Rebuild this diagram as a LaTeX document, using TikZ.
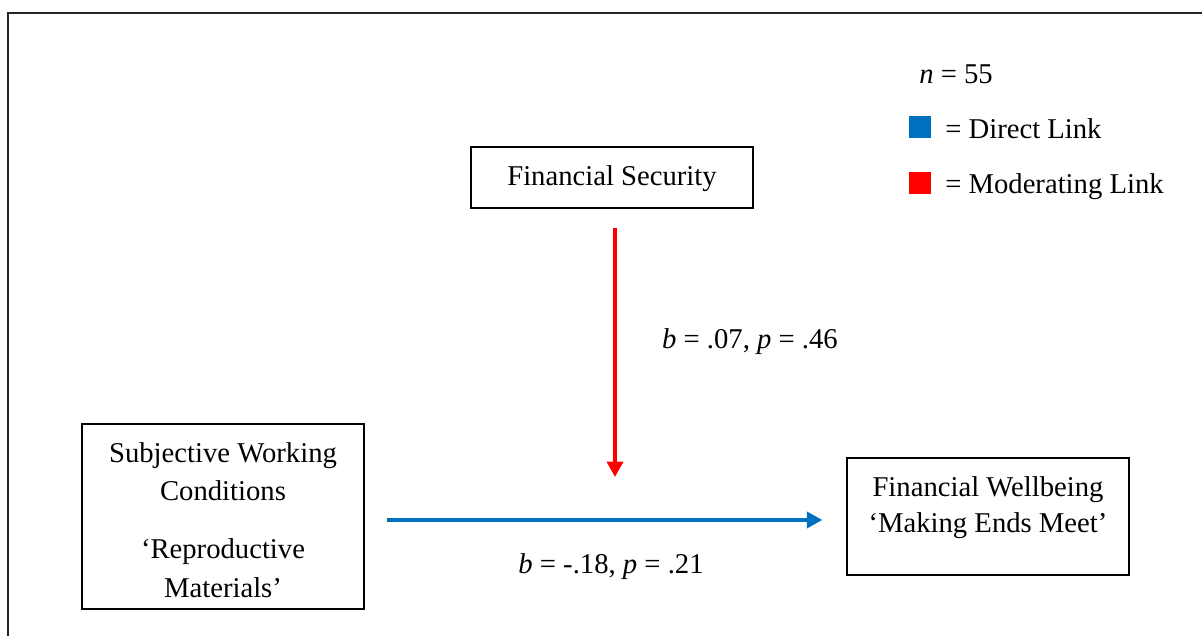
\documentclass[tikz,border=0pt]{standalone}
\usepackage{fontspec}
\setmainfont{Liberation Serif}
\usetikzlibrary{arrows.meta}
\definecolor{linkblue}{HTML}{0070C0}
\definecolor{linkred}{HTML}{FF0000}
\tikzset{
  varbox/.style={draw=black, line width=1.1pt, inner sep=0pt},
  lbl/.style={inner sep=0pt, font=\fontsize{21.5}{28.5}\selectfont},
  boxline/.style={lbl, anchor=base},
  directlink/.style={draw=linkblue, line width=2.6pt,
    -{Triangle[length=11.5pt,width=12pt]}},
  modlink/.style={draw=linkred, line width=2.6pt,
    -{Triangle[length=11.5pt,width=12pt]}},
  keysq/.style={inner sep=0pt, minimum size=16.5pt}
}
\begin{document}
\begin{tikzpicture}[x=0.75pt, y=-0.75pt]
  \useasboundingbox (0,0) rectangle (1202,635);
  % outer frame
  \draw[line width=1.4pt, black!85] (8,660) -- (8,13) -- (1230,13);

  % variable boxes
  \node[varbox, minimum width=211.5pt, minimum height=45.75pt] (fs) at (612,177.5) {};
  \node[varbox, minimum width=211.5pt, minimum height=138.75pt] (swc) at (223,516.5) {};
  \node[varbox, minimum width=211.5pt, minimum height=87.75pt] (fw) at (988,516.5) {};

  % box texts
  \node[boxline] (fs1) at (612,185) {Financial Security};
  \node[boxline] (swc1) at (223,462) {Subjective Working};
  \node[boxline] (swc2) at (223,500) {Conditions};
  \node[boxline] (swc3) at (223,558) {\textquoteleft Reproductive};
  \node[boxline] (swc4) at (223,597) {Materials\textquoteright};
  \node[boxline] (fw1) at (988,496) {Financial Wellbeing};
  \node[boxline] (fw2) at (988,532) {\textquoteleft Making Ends Meet\textquoteright};

  % links
  \coordinate (modtip) at (615,477);
  \draw[modlink, shorten <=14.25pt] (fs.south -| modtip) -- (modtip);
  \draw[directlink, shorten <=16.5pt, shorten >=18pt]
    ([yshift=-2.6pt]swc.east) -- ([yshift=-2.6pt]fw.west);

  % coefficients
  \node[lbl, anchor=base] (bmod) at (750,348) {\textit{b} = .07, \textit{p} = .46};
  \node[lbl, anchor=base] (bdir) at (611,573) {\textit{b} = -.18, \textit{p} = .21};

  % key
  \node[lbl, anchor=base west] (nn) at (919,84) {\textit{n} = 55};
  \node[keysq, fill=linkblue] (kb) at (919.5,127) {};
  \node[keysq, fill=linkred] (kr) at (919.5,183) {};
  \node[lbl, anchor=base west] (kbl) at (945,138) {= Direct Link};
  \node[lbl, anchor=base west] (krl) at (945,193) {= Moderating Link};
\end{tikzpicture}
\end{document}
